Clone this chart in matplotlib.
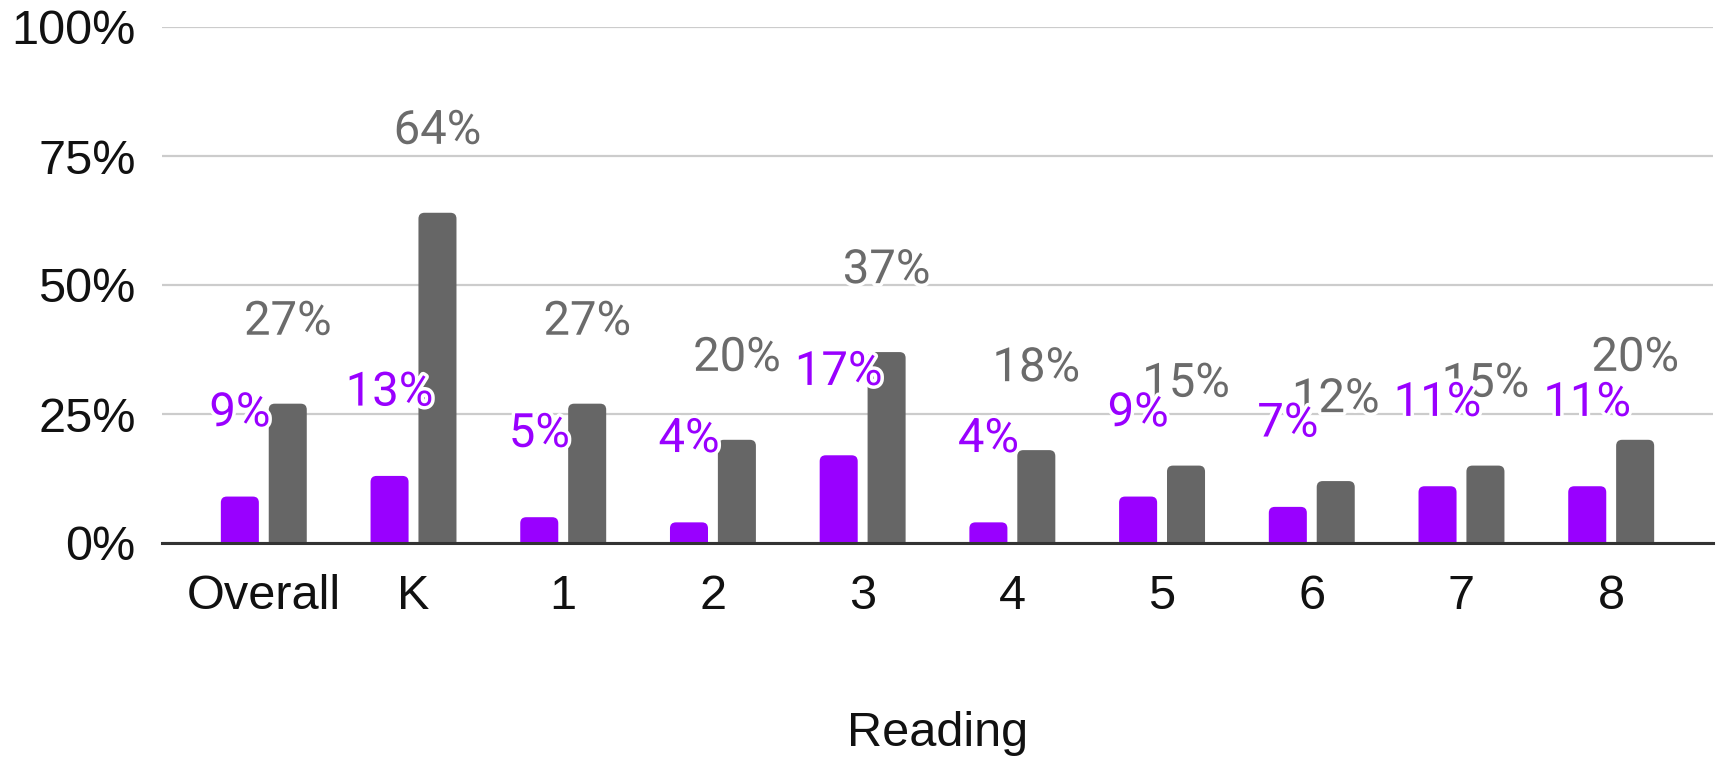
import matplotlib
matplotlib.use("Agg")
import matplotlib.pyplot as plt
import matplotlib.patheffects as pe
from matplotlib.patches import FancyBboxPatch
import numpy as np

# data
categories = ["Overall", "K", "1", "2", "3", "4", "5", "6", "7", "8"]
purple_vals = [9, 13, 5, 4, 17, 4, 9, 7, 11, 11]
gray_vals = [27, 64, 27, 20, 37, 18, 15, 12, 15, 20]
y_ticks = [0, 25, 50, 75, 100]

PURPLE = "#9900ff"
GRAY = "#666666"
GRAY_TEXT = "#6b6b6b"

W, H = 1721, 758
fig = plt.figure(figsize=(W / 100, H / 100), dpi=100)
ax = fig.add_axes([162 / W, 1 - 543 / H, (1713 - 162) / W, (543 - 27) / H])

x = np.arange(len(categories))
width = 0.254
offset = 0.16


def rounded_bars(ax, xs, vals, color):
    # plain bars first, then swap each for a patch with rounded top corners
    bars = ax.bar(xs, vals, width, color=color, zorder=3)
    px_x = 1 / 149.8
    px_y = 100 / 516
    r = 6 * px_x
    for b in bars:
        b.set_visible(False)
        x0, h = b.get_x(), b.get_height()
        patch = FancyBboxPatch((x0, -3), b.get_width(), h + 3,
                               boxstyle=f"round,pad=0,rounding_size={r}",
                               mutation_aspect=px_y / px_x,
                               facecolor=color, edgecolor="none", zorder=3)
        ax.add_patch(patch)
    return bars


rounded_bars(ax, x - offset, purple_vals, PURPLE)
rounded_bars(ax, x + offset, gray_vals, GRAY)

halo = [pe.withStroke(linewidth=5, foreground="white")]
for xi, v in zip(x - offset, purple_vals):
    ax.annotate(f"{v}%", xy=(xi, v), xytext=(0, 60), textcoords="offset points",
                ha="center", va="center", color=PURPLE, fontsize=34,
                family="Roboto", path_effects=halo, zorder=5, clip_on=False)
for xi, v in zip(x + offset, gray_vals):
    ax.annotate(f"{v}%", xy=(xi, v), xytext=(0, 59), textcoords="offset points",
                ha="center", va="center", color=GRAY_TEXT, fontsize=34,
                family="Roboto", path_effects=halo, zorder=4, clip_on=False)

ax.set_xlim(-0.68, 9.68)
ax.set_ylim(0, 100)
ax.set_yticks(y_ticks)
ax.set_yticklabels([f"{t}%" for t in y_ticks])
ax.set_xticks(x)
ax.set_xticklabels(categories)

for lab in ax.get_xticklabels() + ax.get_yticklabels():
    lab.set_family("Liberation Sans")
    lab.set_fontsize(35)
    lab.set_color("#111111")

ax.tick_params(axis="y", length=0, pad=19)
ax.tick_params(axis="x", length=0, pad=22)

ax.grid(True, axis="y", color="#cccccc", linewidth=1.6, zorder=0)
ax.set_axisbelow(True)
for side in ["left", "right", "top"]:
    ax.spines[side].set_visible(False)
ax.spines["bottom"].set_color("#333333")
ax.spines["bottom"].set_linewidth(2.2)
ax.spines["bottom"].set_zorder(4)

ax.set_xlabel("Reading", fontsize=35, family="Liberation Sans", color="#111111")
ax.xaxis.set_label_coords(0.5, (543 - 733) / 516)
ax.xaxis.label.set_va("center")

fig.savefig("out.png", dpi=100)
